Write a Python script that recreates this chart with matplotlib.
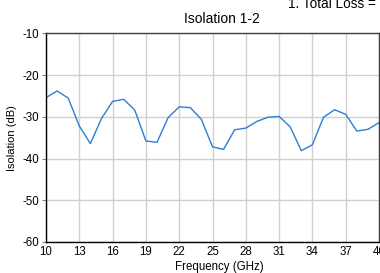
import matplotlib
matplotlib.use("Agg")
import matplotlib.pyplot as plt

plt.rcParams['font.family'] = ['Liberation Sans', 'DejaVu Sans']
plt.rcParams['axes.unicode_minus'] = False

freq_ghz = list(range(10, 41))
isolation_db = [-25.4, -23.8, -25.5, -32.2, -36.4, -30.4, -26.3, -25.8, -28.4, -35.8,
                -36.1, -30.2, -27.6, -27.8, -30.6, -37.2, -37.8, -33.1, -32.7, -31.1,
                -30.1, -29.9, -32.4, -38.1, -36.7, -30.1, -28.3, -29.4, -33.4, -33.0, -31.4]
x_ticks = [10, 13, 16, 19, 22, 25, 28, 31, 34, 37, 40]
y_ticks = [-10, -20, -30, -40, -50, -60]

fig = plt.figure(figsize=(3.8, 2.73), dpi=100)
ax = fig.add_axes([46/380, 1-242/273, 333/380, (242-33.4)/273])
ax.plot(freq_ghz, isolation_db, color='#2a80d2', lw=1.0)
ax.set_xlim(10, 40)
ax.set_ylim(-60, -10)
ax.set_xticks(x_ticks)
ax.set_yticks(y_ticks)
ax.grid(True, color='#d0d0d0', lw=1.0)
ax.set_axisbelow(True)
for s in ['left', 'bottom']:
    ax.spines[s].set_color('black')
    ax.spines[s].set_linewidth(1.0)
for s in ['top', 'right']:
    ax.spines[s].set_color('#404040')
    ax.spines[s].set_linewidth(1.0)
ax.tick_params(axis='both', labelsize=8.3, length=3, width=0.8, color='#808080', pad=2)
ax.tick_params(axis='x', length=0, pad=3)
ax.set_ylabel('Isolation (dB)', fontsize=8, labelpad=4)
fig.text(222/380, 1-19/273, 'Isolation 1-2', fontsize=10, ha='center', va='center')
fig.text(219/380, 1-267/273, 'Frequency (GHz)', fontsize=8.3, ha='center', va='center')
fig.text(288/380, 1-4/273, '1. Total Loss =', fontsize=9.8, ha='left', va='center')
fig.savefig('out.png', dpi=100)
